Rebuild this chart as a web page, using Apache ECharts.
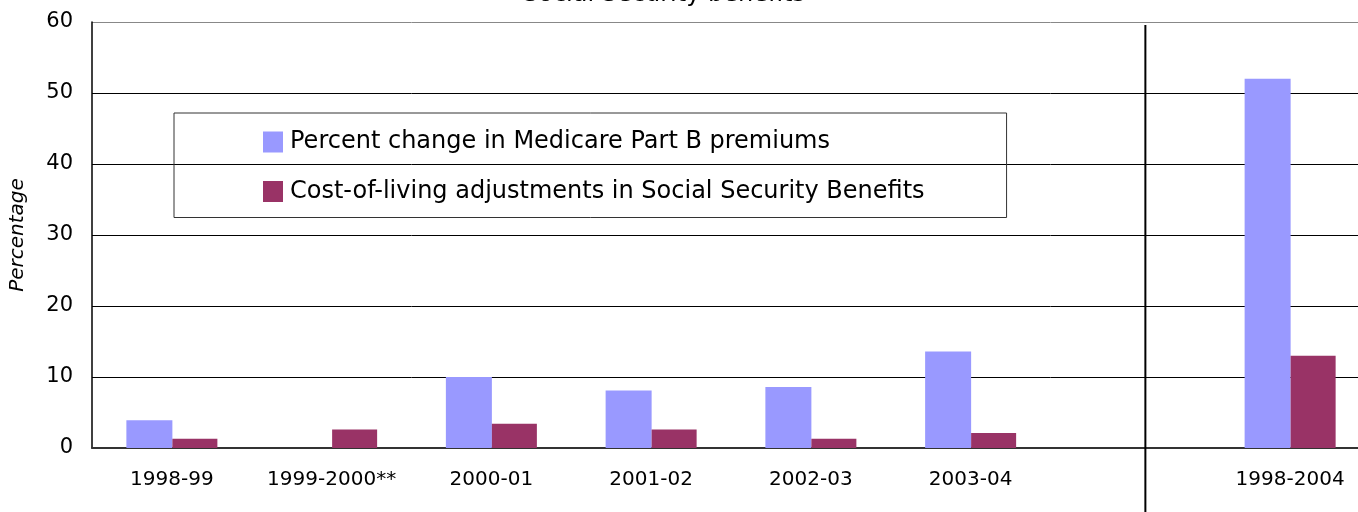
<!DOCTYPE html>
<html>
<head>
<meta charset="utf-8">
<script src="https://cdn.jsdelivr.net/npm/echarts@6/dist/echarts.min.js"></script>
<style>
  html, body { margin: 0; padding: 0; background: #fff; overflow: hidden; }
  /* the plot area runs a little past the right edge of the window */
  #chart { width: 1370px; height: 512px; }
</style>
</head>
<body>
<div id="chart"></div>
<script>
// Periods (an empty slot separates the yearly values from the cumulative one)
const categories = ['1998-99', '1999-2000**', '2000-01', '2001-02', '2002-03', '2003-04', '', '1998-2004'];
// Percent change in Medicare Part B premiums
const premiumChange = [3.9, 0, 10.0, 8.1, 8.6, 13.6, null, 52.0];
// Cost-of-living adjustments in Social Security benefits
const colaChange = [1.3, 2.6, 3.4, 2.6, 1.3, 2.1, null, 13.0];
const yTicks = [0, 10, 20, 30, 40, 50, 60];

const FONT = 'DejaVu Sans';
const chart = echarts.init(document.getElementById('chart'), null, { renderer: 'canvas' });

chart.setOption({
  animation: false,
  backgroundColor: '#ffffff',
  legend: {
    orient: 'vertical',
    left: 174,
    top: 113,
    padding: [17, 82, 14, 89],
    itemWidth: 20,
    itemHeight: 21,
    itemGap: 25.5,
    icon: 'rect',
    borderColor: '#333',
    borderWidth: 1,
    textStyle: { fontFamily: FONT, fontSize: 24, color: '#000', padding: [0, 0, 0, 2] },
    data: ['Percent change in Medicare Part B premiums', 'Cost-of-living adjustments in Social Security Benefits']
  },
  grid: { left: 90, top: 22, right: 0, bottom: 64, containLabel: false },
  xAxis: {
    type: 'category',
    data: categories,
    boundaryGap: true,
    axisLine: { show: true, lineStyle: { color: '#333', width: 2 } },
    axisTick: { show: false },
    axisLabel: { fontFamily: FONT, fontSize: 20, color: '#000', margin: 22, interval: 0 },
    splitLine: { show: false }
  },
  yAxis: {
    type: 'value',
    min: yTicks[0],
    max: yTicks[yTicks.length - 1],
    interval: 10,
    name: 'Percentage',
    nameLocation: 'middle',
    nameRotate: 90,
    nameGap: 64,
    nameTextStyle: { fontFamily: FONT, fontSize: 20, fontStyle: 'italic', color: '#000' },
    axisLine: { show: true, lineStyle: { color: '#000', width: 1.5 } },
    axisTick: { show: false },
    axisLabel: { fontFamily: FONT, fontSize: 21, color: '#000', margin: 19 },
    splitLine: { show: true, lineStyle: { color: ['#000', '#000', '#000', '#000', '#000', '#000', '#888'], width: 1 } }
  },
  series: [
    {
      name: 'Percent change in Medicare Part B premiums',
      type: 'bar',
      data: premiumChange,
      barWidth: 46,
      barGap: '0%',
      itemStyle: { color: '#9999FF' }
    },
    {
      name: 'Cost-of-living adjustments in Social Security Benefits',
      type: 'bar',
      data: colaChange,
      barWidth: 45,
      barGap: '0%',
      itemStyle: { color: '#993366' }
    }
  ]
});

// Title (mostly above the top edge) and the vertical divider separating
// the yearly periods from the cumulative period
const dividerX = chart.convertToPixel({ xAxisIndex: 0 }, 6) + 15;
chart.setOption({
  graphic: [
    {
      type: 'text',
      x: 523,
      y: -17,
      style: {
        text: 'Social Security benefits',
        font: 'normal 24px "DejaVu Sans"',
        fill: '#000',
        verticalAlign: 'top'
      },
      z: 10
    },
    {
      type: 'line',
      shape: { x1: dividerX, y1: 25, x2: dividerX, y2: 512 },
      style: { stroke: '#000', lineWidth: 2 },
      z: 10
    }
  ]
});
</script>
</body>
</html>
